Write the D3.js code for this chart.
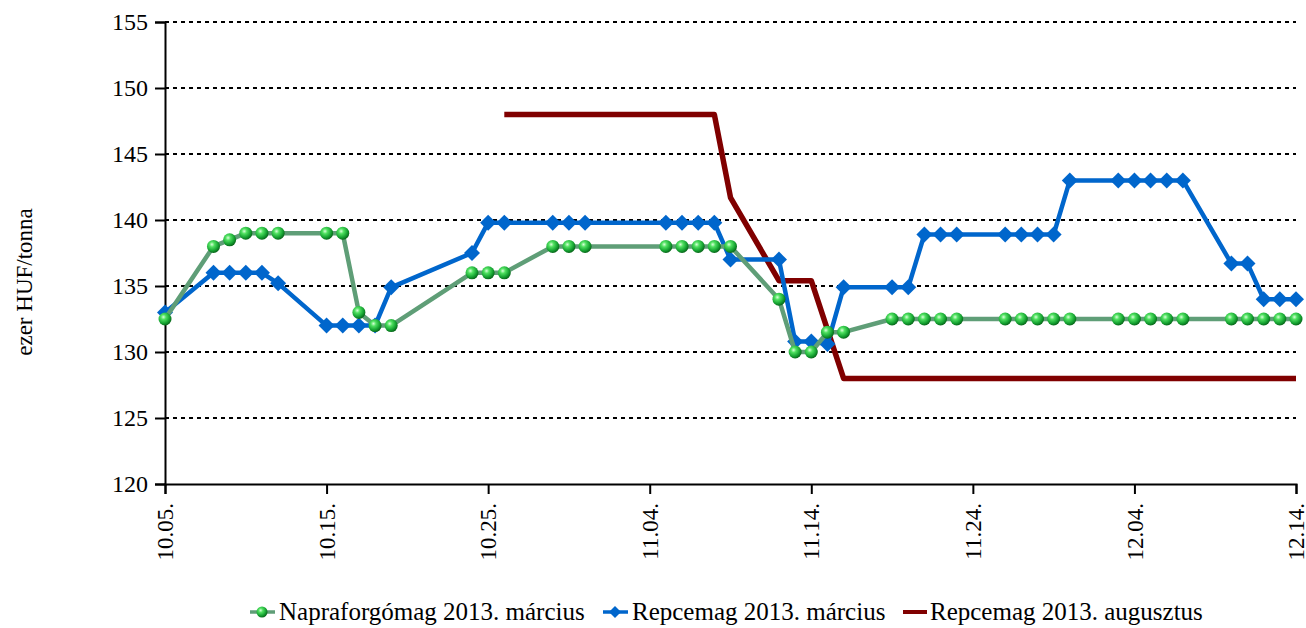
<!DOCTYPE html>
<html>
<head>
<meta charset="utf-8">
<script src="https://cdn.jsdelivr.net/npm/d3@7/dist/d3.min.js"></script>
<style>
  html, body { margin: 0; padding: 0; background: #fff; }
  svg { display: block; }
  text { font-family: "Liberation Serif", "Times New Roman", serif; fill: #000; }
</style>
</head>
<body>
<svg id="chart" width="1306" height="628"></svg>
<script>
// ---- data ----
const dates = [
  "10.05","10.08","10.09","10.10","10.11","10.12",
  "10.15","10.16","10.17","10.18","10.19",
  "10.24","10.25","10.26",
  "10.29","10.30","10.31",
  "11.05","11.06","11.07","11.08","11.09",
  "11.12","11.13","11.14","11.15","11.16",
  "11.19","11.20","11.21","11.22","11.23",
  "11.26","11.27","11.28","11.29","11.30",
  "12.03","12.04","12.05","12.06","12.07",
  "12.10","12.11","12.12","12.13","12.14"
];
const napraforgoMarcius = [
  132.5,138.0,138.5,139,139,139,
  139,139,133,132,132,
  136,136,136,
  138,138,138,
  138,138,138,138,138,
  134,130,130,131.5,131.5,
  132.5,132.5,132.5,132.5,132.5,
  132.5,132.5,132.5,132.5,132.5,
  132.5,132.5,132.5,132.5,132.5,
  132.5,132.5,132.5,132.5,132.5
];
const repceMarcius = [
  133,136,136,136,136,135.2,
  132,132,132,132,134.9,
  137.5,139.8,139.8,
  139.8,139.8,139.8,
  139.8,139.8,139.8,139.8,137,
  137,130.8,130.8,130.6,134.9,
  134.9,134.9,138.9,138.9,138.9,
  138.9,138.9,138.9,138.9,143,
  143,143,143,143,143,
  136.7,136.7,134,134,134
];
const repceAugusztus = [
  null,null,null,null,null,null,
  null,null,null,null,null,
  null,null,148,
  148,148,148,
  148,148,148,148,141.7,
  135.4,135.4,135.4,131.7,128,
  128,128,128,128,128,
  128,128,128,128,128,
  128,128,128,128,128,
  128,128,128,128,128
];
const xTickLabels = ["10.05.","10.15.","10.25.","11.04.","11.14.","11.24.","12.04.","12.14."];
const yTicks = [120,125,130,135,140,145,150,155];
const seriesNames = ["Napraforgómag 2013. március","Repcemag 2013. március","Repcemag 2013. augusztus"];
const yTitle = "ezer HUF/tonna";
const year = "2012";

// ---- setup ----
const parse = d3.timeParse("%Y.%m.%d");
const toDate = s => parse(year + "." + s.replace(/\.$/, ""));
const svg = d3.select("#chart");
const L = 165, R = 1296, T = 22, B = 484;

const x = d3.scaleTime().domain([toDate(xTickLabels[0]), toDate(xTickLabels[xTickLabels.length - 1])]).range([L, R]);
const y = d3.scaleLinear().domain([120, 155]).range([B, T]);

const COL_GREEN_LINE = "#5f9e77";
const COL_BLUE = "#0066cc";
const COL_RED = "#800000";

const defs = svg.append("defs");
const grad = defs.append("radialGradient").attr("id", "ball").attr("cx", "38%").attr("cy", "35%").attr("r", "65%");
grad.append("stop").attr("offset", "0%").attr("stop-color", "#d8ffd8");
grad.append("stop").attr("offset", "30%").attr("stop-color", "#4fe060");
grad.append("stop").attr("offset", "75%").attr("stop-color", "#14a030");
grad.append("stop").attr("offset", "100%").attr("stop-color", "#0a6a1c");

// gridlines
svg.append("g").selectAll("line")
  .data(yTicks.filter(v => v !== 120))
  .join("line")
  .attr("x1", L).attr("x2", R)
  .attr("y1", d => y(d)).attr("y2", d => y(d))
  .attr("stroke", "#000").attr("stroke-width", 2)
  .attr("stroke-dasharray", "4,4");

// y axis
const yAxis = svg.append("g").attr("transform", `translate(${L},0)`)
  .call(d3.axisLeft(y).tickValues(yTicks).tickSize(10).tickPadding(7).tickFormat(d3.format("d")));
yAxis.select(".domain").attr("stroke", "#000").attr("stroke-width", 2);
yAxis.selectAll(".tick line").attr("stroke", "#000").attr("stroke-width", 2);
yAxis.selectAll("text").style("font-size", "24px").style("font-family", "'Liberation Serif', 'Times New Roman', serif").attr("fill", "#000");

// x axis
const xAxis = svg.append("g").attr("transform", `translate(0,${B})`)
  .call(d3.axisBottom(x).tickValues(xTickLabels.map(toDate)).tickSize(10).tickFormat((d, i) => xTickLabels[i]));
xAxis.select(".domain").attr("stroke", "#000").attr("stroke-width", 2);
xAxis.selectAll(".tick line").attr("stroke", "#000").attr("stroke-width", 2);
xAxis.selectAll("text")
  .style("font-size", "23px").style("font-family", "'Liberation Serif', 'Times New Roman', serif")
  .attr("fill", "#000")
  .attr("transform", "rotate(-90)")
  .attr("x", -19).attr("y", 0).attr("dy", "0.33em")
  .style("text-anchor", "end");

// y title
svg.append("text")
  .attr("transform", `translate(32,282) rotate(-90)`)
  .attr("text-anchor", "middle")
  .style("font-size", "23px")
  .text(yTitle);

// ---- series ----
const pts = vals => dates.map((d, i) => ({ date: toDate(d), v: vals[i] })).filter(p => p.v !== null);
const line = d3.line().x(p => x(p.date)).y(p => y(p.v));
const diamond = s => `M0,${-s}L${s},0L0,${s}L${-s},0Z`;

// red (no markers)
svg.append("path").datum(pts(repceAugusztus))
  .attr("d", line).attr("fill", "none").attr("stroke", COL_RED)
  .attr("stroke-width", 5.5).attr("stroke-linejoin", "round");

// blue
svg.append("path").datum(pts(repceMarcius))
  .attr("d", line).attr("fill", "none").attr("stroke", COL_BLUE)
  .attr("stroke-width", 4.5).attr("stroke-linejoin", "round");
svg.append("g").selectAll("path").data(pts(repceMarcius)).join("path")
  .attr("transform", p => `translate(${x(p.date)},${y(p.v)})`)
  .attr("d", diamond(8)).attr("fill", COL_BLUE);

// green
svg.append("path").datum(pts(napraforgoMarcius))
  .attr("d", line).attr("fill", "none").attr("stroke", COL_GREEN_LINE)
  .attr("stroke-width", 4.5).attr("stroke-linejoin", "round");
svg.append("g").selectAll("circle").data(pts(napraforgoMarcius)).join("circle")
  .attr("cx", p => x(p.date)).attr("cy", p => y(p.v)).attr("r", 6.5)
  .attr("fill", "url(#ball)");

// ---- legend ----
const ly = 612;
const lg = svg.append("g");
// green
lg.append("line").attr("x1", 250).attr("x2", 275).attr("y1", ly).attr("y2", ly).attr("stroke", COL_GREEN_LINE).attr("stroke-width", 3.5);
lg.append("circle").attr("cx", 262).attr("cy", ly).attr("r", 5.5).attr("fill", "url(#ball)");
lg.append("text").attr("x", 279).attr("y", ly + 8).style("font-size", "25px").text(seriesNames[0]);
// blue
lg.append("line").attr("x1", 603).attr("x2", 628).attr("y1", ly).attr("y2", ly).attr("stroke", COL_BLUE).attr("stroke-width", 3.5);
lg.append("path").attr("transform", `translate(615,${ly})`).attr("d", diamond(6)).attr("fill", COL_BLUE);
lg.append("text").attr("x", 632).attr("y", ly + 8).style("font-size", "25px").text(seriesNames[1]);
// red
lg.append("line").attr("x1", 903).attr("x2", 927).attr("y1", ly).attr("y2", ly).attr("stroke", COL_RED).attr("stroke-width", 4);
lg.append("text").attr("x", 930).attr("y", ly + 8).style("font-size", "25px").text(seriesNames[2]);
</script>
</body>
</html>
